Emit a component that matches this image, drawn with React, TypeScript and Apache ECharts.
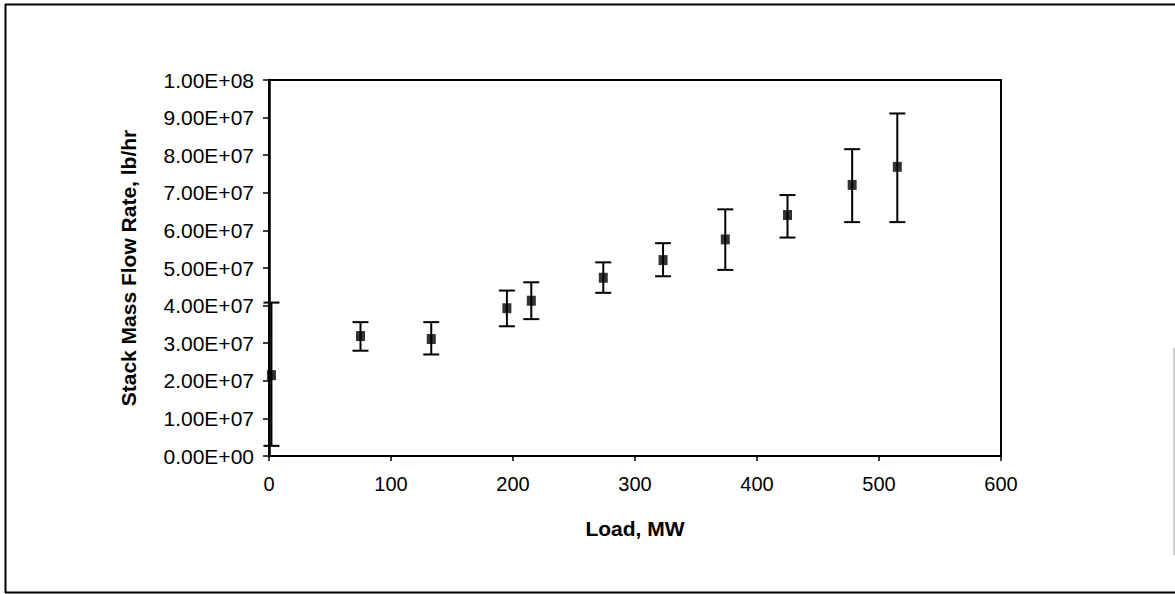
import React, { useEffect, useRef } from "react";
import * as echarts from "echarts";

const loads = [2, 75, 133, 195, 215, 274, 323, 374, 425, 478, 515];
const flowRates = [2.15e7, 3.19e7, 3.11e7, 3.93e7, 4.13e7, 4.74e7, 5.21e7, 5.76e7, 6.41e7, 7.21e7, 7.69e7];
const upperBounds = [4.08e7, 3.56e7, 3.56e7, 4.4e7, 4.62e7, 5.15e7, 5.66e7, 6.56e7, 6.94e7, 8.16e7, 9.11e7];
const lowerBounds = [0.27e7, 2.8e7, 2.7e7, 3.45e7, 3.64e7, 4.34e7, 4.78e7, 4.95e7, 5.81e7, 6.22e7, 6.22e7];
const yTickLabels = [
  "0.00E+00", "1.00E+07", "2.00E+07", "3.00E+07", "4.00E+07", "5.00E+07",
  "6.00E+07", "7.00E+07", "8.00E+07", "9.00E+07", "1.00E+08",
];
const xTitle = "Load, MW";
const yTitle = "Stack Mass Flow Rate, lb/hr";

const FONT = "'Liberation Sans', Arial, sans-serif";

export default function App() {
  const ref = useRef<HTMLDivElement>(null);
  useEffect(() => {
    if (!ref.current) return;
    const chart = echarts.init(ref.current, null, { renderer: "svg" });
    const points = loads.map((x, i) => [x, flowRates[i]]);
    const bars = loads.map((x, i) => [x, lowerBounds[i], upperBounds[i]]);
    chart.setOption({
      animation: false,
      backgroundColor: "#ffffff",
      grid: {
        left: 269,
        right: 174,
        top: 80,
        bottom: 138,
        show: true,
        borderColor: "#000",
        borderWidth: 2,
        backgroundColor: "transparent",
      },
      xAxis: {
        type: "value",
        min: 0,
        max: 600,
        interval: 100,
        name: xTitle,
        nameLocation: "middle",
        nameGap: 62,
        nameTextStyle: { fontFamily: FONT, fontSize: 21, fontWeight: "bold", color: "#000" },
        axisLine: { show: true, onZero: false, lineStyle: { color: "#000", width: 2 } },
        axisTick: { show: true, inside: false, length: 5, lineStyle: { color: "#000", width: 1.5 } },
        axisLabel: { fontFamily: FONT, fontSize: 20, color: "#000", margin: 18 },
        splitLine: { show: false },
      },
      yAxis: {
        type: "value",
        min: 0,
        max: 1e8,
        interval: 1e7,
        name: yTitle,
        nameLocation: "middle",
        nameGap: 130,
        nameTextStyle: { fontFamily: FONT, fontSize: 21, fontWeight: "bold", color: "#000" },
        axisLine: { show: true, lineStyle: { color: "#000", width: 2.5 } },
        axisTick: { show: true, inside: false, length: 6, lineStyle: { color: "#000", width: 1.5 } },
        axisLabel: {
          fontFamily: FONT,
          fontSize: 21,
          color: "#000",
          margin: 15,
          formatter: (v: number) => yTickLabels[Math.round(v / 1e7)] ?? "",
        },
        splitLine: { show: false },
      },
      graphic: [
        { type: "line", shape: { x1: 5, y1: 4.5, x2: 1175, y2: 4.5 }, style: { stroke: "#000", lineWidth: 2 } },
        { type: "line", shape: { x1: 5.5, y1: 4, x2: 5.5, y2: 593 }, style: { stroke: "#000", lineWidth: 2 } },
        { type: "line", shape: { x1: 5, y1: 592.5, x2: 1175, y2: 592.5 }, style: { stroke: "#000", lineWidth: 2 } },
        { type: "line", shape: { x1: 1174, y1: 348, x2: 1174, y2: 555 }, style: { stroke: "#999", lineWidth: 1 } },
      ],
      series: [
        {
          type: "custom",
          data: bars,
          z: 2,
          renderItem: (params: any, api: any) => {
            const x = api.value(0);
            const lo = api.coord([x, api.value(1)]);
            const hi = api.coord([x, api.value(2)]);
            const hw = 8;
            const style = { stroke: "#000", lineWidth: 2 };
            return {
              type: "group",
              children: [
                { type: "line", shape: { x1: hi[0], y1: hi[1], x2: lo[0], y2: lo[1] }, style },
                { type: "line", shape: { x1: hi[0] - hw, y1: hi[1], x2: hi[0] + hw, y2: hi[1] }, style },
                { type: "line", shape: { x1: lo[0] - hw, y1: lo[1], x2: lo[0] + hw, y2: lo[1] }, style },
              ],
            };
          },
        },
        {
          type: "scatter",
          data: points,
          symbol: "rect",
          symbolSize: [9, 10],
          z: 3,
          itemStyle: { color: "#000" },
        },
      ],
    });
    return () => chart.dispose();
  }, []);
  return (
    <div
      ref={ref}
      style={{ position: "absolute", left: 0, top: 0, width: 1175, height: 594 }}
    />
  );
}
